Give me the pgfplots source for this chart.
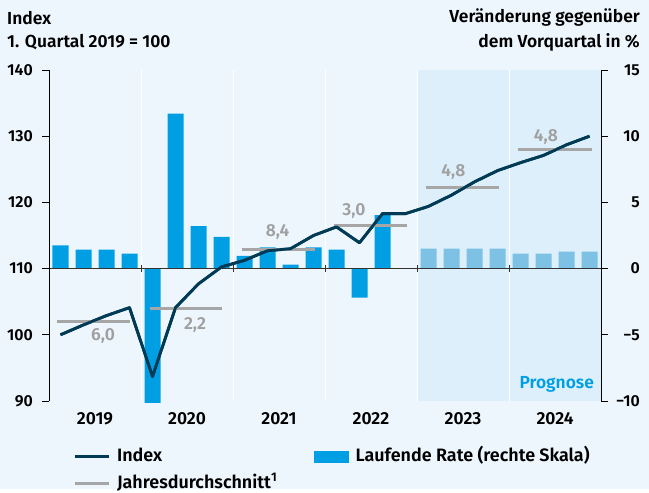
\documentclass[border=0pt]{standalone}
\usepackage{pgfplots}
\pgfplotsset{compat=1.18}
\usepackage{fontspec}
\setmainfont{Fira Sans}[BoldFont={Fira Sans SemiBold}]
\definecolor{bg}{HTML}{EEF6FD}
\definecolor{shadecol}{HTML}{DCEFFB}
\definecolor{barblue}{HTML}{009FE3}
\definecolor{barlight}{HTML}{7DC2E5}
\definecolor{navy}{HTML}{003B55}
\definecolor{avg}{HTML}{A6A6A6}
\definecolor{avgtxt}{HTML}{A0A0A0}
\definecolor{zero}{HTML}{333333}
\newcommand{\tf}{\bfseries\fontsize{16}{18}\selectfont}
\newcommand{\lf}{\bfseries\fontsize{17.5}{20}\selectfont}
\newcommand{\gf}{\bfseries\fontsize{18}{21}\selectfont}
\begin{document}
\begin{tikzpicture}[x=1bp,y=1bp]
\fill[bg] (-49,-88) rectangle (600,401);
% right axis: bars
\begin{axis}[
  at={(0,0)}, anchor=south west, scale only axis,
  width=552bp, height=331bp,
  xmin=-0.5, xmax=23.5, ymin=-10, ymax=15,
  axis x line=none, axis y line*=right,
  ytick={-10,-5,0,5,10,15},
  yticklabels={−10,−5,0,5,10,15},
  yticklabel style={font=\tf, anchor=east, inner sep=0pt, xshift=32bp},
  tick align=outside, major tick length=7bp,
  every tick/.style={black, line width=0.8bp},
  axis line style={black, line width=0.8bp},
  clip=false,
]
\fill[shadecol] (axis cs:15.5,-10) rectangle (axis cs:23.5,15);
\foreach \xx in {3.5,7.5,11.5,15.5,19.5}{
  \edef\tmp{\noexpand\draw[white, line width=1bp] (axis cs:\xx,-10) -- (axis cs:\xx,15);}\tmp
}
\addplot[ybar, bar width=16bp, bar shift=0pt, fill=barblue, draw=none] coordinates {
(0,1.76) (1,1.44) (2,1.44) (3,1.13) (4,-10.15) (5,11.7) (6,3.2) (7,2.4)
(8,0.96) (9,1.61) (10,0.30) (11,1.61) (12,1.44) (13,-2.2) (14,4.03) (15,0)
};
\addplot[ybar, bar width=16bp, bar shift=0pt, fill=barlight, draw=none] coordinates {
(16,1.51) (17,1.51) (18,1.51) (19,1.51) (20,1.13) (21,1.13) (22,1.29) (23,1.29)
};
\draw[zero, line width=1.2bp] (axis cs:-0.5,0) -- (axis cs:23.5,0);
\foreach \xx in {3.5,7.5,11.5,15.5,19.5}{
  \edef\tmp{\noexpand\draw[zero, line width=1bp] ([yshift=-3.5bp]axis cs:\xx,0) -- ([yshift=3.5bp]axis cs:\xx,0);}\tmp
}
\node[font=\lf, text=barblue, anchor=east, inner sep=0pt] at (axis cs:23.2,-8.72) {Prognose};
\end{axis}
% left axis: index and averages
\begin{axis}[
  at={(0,0)}, anchor=south west, scale only axis,
  width=552bp, height=331bp,
  xmin=-0.5, xmax=23.5, ymin=90, ymax=140,
  axis y line*=left, axis x line*=bottom,
  x axis line style={draw=none},
  xtick={1.5,5.5,9.5,13.5,17.5,21.5},
  xticklabels={2019,2020,2021,2022,2023,2024},
  xtick style={draw=none},
  xticklabel style={font=\lf, yshift=-1bp},
  ytick={90,100,...,140},
  yticklabels={90,100,110,120,130,140},
  yticklabel style={font=\tf, anchor=east, inner sep=0pt, xshift=-9bp},
  tick align=outside, major tick length=7bp,
  ytick style={black, line width=0.8bp},
  y axis line style={black, line width=0.8bp},
  clip=false,
  legend columns=2,
  legend style={at={(24bp,-47bp)}, anchor=north west, draw=none, fill=none,
    font=\gf, inner sep=0pt, row sep=10bp,
    nodes={inner sep=0pt, text height=13bp, text depth=4bp},
    /tikz/every odd column/.append style={column sep=7bp},
    /tikz/every even column/.append style={column sep=37bp}},
  legend cell align=left,
  legend image code/.code={\draw[#1] (0bp,0bp) -- (34bp,0bp);},
]
\addplot[navy, line width=2.8bp, line join=round] coordinates {
(0,100.0) (1,101.5) (2,102.9) (3,104.1) (4,93.7) (5,104.1) (6,107.7) (7,110.25)
(8,111.25) (9,112.7) (10,113.0) (11,115.0) (12,116.3) (13,113.9) (14,118.3) (15,118.3)
(16,119.4) (17,121.1) (18,123.1) (19,124.8) (20,126.0) (21,127.1) (22,128.7) (23,130.0)
};
\addlegendentry{Index}
\addlegendimage{legend image code/.code={\fill[barblue] (0bp,-5.5bp) rectangle (34bp,5.5bp);}}
\addlegendentry{Laufende Rate (rechte Skala)}
\addlegendimage{avg, line width=2.4bp}
\addlegendentry{Jahresdurchschnitt\textsuperscript{1}}
\addplot[avg, line width=2.4bp, forget plot] coordinates {(-0.15,102.0) (3.02,102.0)};
\addplot[avg, line width=2.4bp, forget plot] coordinates {(3.88,103.95) (7.03,103.95)};
\addplot[avg, line width=2.4bp, forget plot] coordinates {(7.89,112.9) (11.05,112.9)};
\addplot[avg, line width=2.4bp, forget plot] coordinates {(11.9,116.5) (15.05,116.5)};
\addplot[avg, line width=2.4bp, forget plot] coordinates {(15.89,122.25) (19.08,122.25)};
\addplot[avg, line width=2.4bp, forget plot] coordinates {(19.9,128.0) (23.1,128.0)};
% redraw index on top of average lines
\addplot[navy, line width=2.8bp, line join=round, forget plot] coordinates {
(0,100.0) (1,101.5) (2,102.9) (3,104.1) (4,93.7) (5,104.1) (6,107.7) (7,110.25)
(8,111.25) (9,112.7) (10,113.0) (11,115.0) (12,116.3) (13,113.9) (14,118.3) (15,118.3)
(16,119.4) (17,121.1) (18,123.1) (19,124.8) (20,126.0) (21,127.1) (22,128.7) (23,130.0)
};
\node[font=\lf, text=avgtxt] at (axis cs:1.85,99.87) {6,0};
\node[font=\lf, text=avgtxt] at (axis cs:5.85,101.5) {2,2};
\node[font=\lf, text=avgtxt] at (axis cs:9.44,115.5) {8,4};
\node[font=\lf, text=avgtxt] at (axis cs:12.76,118.7) {3,0};
\node[font=\lf, text=avgtxt] at (axis cs:17.08,124.6) {4,8};
\node[font=\lf, text=avgtxt] at (axis cs:21.1,129.85) {4,8};
\end{axis}
\node[font=\lf, anchor=west, inner sep=0pt] at (-42,383) {Index};
\node[font=\lf, anchor=west, inner sep=0pt] at (-42,359) {1. Quartal 2019 = 100};
\node[font=\lf, anchor=east, inner sep=0pt] at (591,383) {Veränderung gegenüber};
\node[font=\lf, anchor=east, inner sep=0pt] at (591,359) {dem Vorquartal in \%};
\end{tikzpicture}
\end{document}
